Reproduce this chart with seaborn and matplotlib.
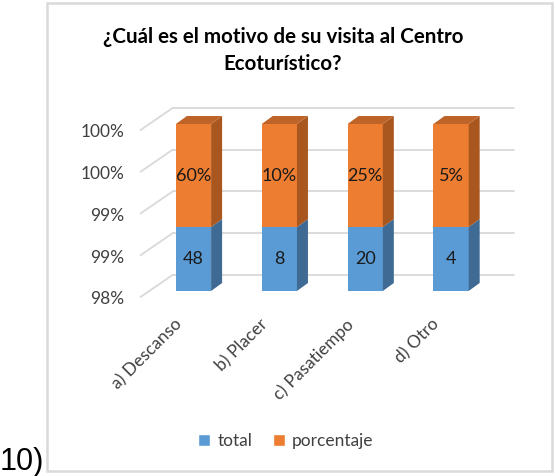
import numpy as np
import pandas as pd
import matplotlib
matplotlib.use('Agg')
import matplotlib.pyplot as plt
import matplotlib.transforms as mtransforms
from matplotlib.patches import Polygon, Rectangle, Patch
import seaborn as sns

# datos
categorias = ['a) Descanso', 'b) Placer', 'c) Pasatiempo', 'd) Otro']
total = [48, 8, 20, 4]
porcentaje = [0.60, 0.10, 0.25, 0.05]
etiquetas_total = ['48', '8', '20', '4']
etiquetas_pct = ['60%', '10%', '25%', '5%']
y_ticks = [98, 98.5, 99, 99.5, 100]
y_labels = ['98%', '99%', '99%', '100%', '100%']

titulo = '¿Cuál es el motivo de su visita al Centro\nEcoturístico?'

AZUL = '#5B9BD5'
AZUL_LADO = '#3E6A94'
NARANJA = '#ED7D31'
NARANJA_LADO = '#A9561F'
NARANJA_TOPE = '#BE6428'
GRIS = '#D9D9D9'
TEXTO = '#404040'

sns.set_theme(style='white')
plt.rcParams['font.family'] = ['Lato', 'DejaVu Sans']

# 100% apilado
df = pd.DataFrame({'categoria': categorias, 'total': total, 'porcentaje': porcentaje})
df['pct_total'] = df['total'] / (df['total'] + df['porcentaje']) * 100
df['pct_acum'] = (df['total'] + df['porcentaje']) / (df['total'] + df['porcentaje']) * 100

fig = plt.figure(figsize=(5.55, 4.76), dpi=100)
ax = fig.add_axes([0.2713, 0.3887, 0.6188, 0.3508])

sns.barplot(data=df, x='categoria', y='pct_acum', color=NARANJA, saturation=1,
            width=0.41, linewidth=0, ax=ax, zorder=2)
sns.barplot(data=df, x='categoria', y='pct_total', color=AZUL, saturation=1,
            width=0.41, linewidth=0, ax=ax, zorder=2)

ymin, ymax = y_ticks[0], y_ticks[-1]
ax.set_ylim(ymin, ymax)
ax.set_xlim(-0.5, len(categorias) - 0.5)
ax.set_xlabel('')
ax.set_ylabel('')
ax.set_xticks([])
ax.set_yticks([])
sns.despine(ax=ax, left=True, bottom=True)

# escala en pixeles para la profundidad 3D
p0 = ax.transData.transform((0, ymin))
p1 = ax.transData.transform((1, ymax))
sx = p1[0] - p0[0]
sy = (p1[1] - p0[1]) / (ymax - ymin)
dx, dy = 11 / sx, 8 / sy

# pared del fondo (lineas de cuadricula)
x_lo, x_hi = ax.get_xlim()
back_l = x_lo + 22 / sx
back_r = x_hi + 20 / sx
front_l = x_lo - 10 / sx
for v in y_ticks:
    yb = v + 16 / sy
    yf = v - 6 / sy
    ax.plot([back_l, back_r], [yb, yb], color=GRIS, lw=1.3, zorder=0.5, clip_on=False)
    ax.plot([front_l, back_l], [yf, yb], color=GRIS, lw=1.3, zorder=0.5, clip_on=False)

# caras laterales y superiores
barras = ax.patches[:len(categorias)]
for i, b in enumerate(barras):
    xl = b.get_x()
    xr = xl + b.get_width()
    yt = df['pct_total'][i]
    for (y0, y1, col) in [(ymin, yt, AZUL_LADO), (yt, ymax, NARANJA_LADO)]:
        ax.add_patch(Polygon([(xr, y0), (xr, y1), (xr + dx, y1 + dy), (xr + dx, y0 + dy)],
                             closed=True, facecolor=col, edgecolor='none', zorder=2, clip_on=False))
    ax.add_patch(Polygon([(xl, ymax), (xr, ymax), (xr + dx, ymax + dy), (xl + dx, ymax + dy)],
                         closed=True, facecolor=NARANJA_TOPE, edgecolor='none', zorder=2, clip_on=False))
    # etiquetas de datos
    ax.text(i, (ymin + yt) / 2, etiquetas_total[i], ha='center', va='center',
            fontsize=13, color='#1a1a1a', zorder=3)
    ax.text(i, (yt + ymax) / 2, etiquetas_pct[i], ha='center', va='center',
            fontsize=13, color='#1a1a1a', zorder=3)

# etiquetas eje y
ty = ax.get_yaxis_transform() + mtransforms.ScaledTranslation(-0.265, -0.085, fig.dpi_scale_trans)
for v, lab in zip(y_ticks, y_labels):
    ax.text(0, v, lab, transform=ty, ha='right', va='center', fontsize=12.5, color=TEXTO)

# etiquetas eje x
tx = ax.transData + mtransforms.ScaledTranslation(-0.2, -0.25, fig.dpi_scale_trans)
for i, cat in enumerate(categorias):
    ax.text(i, ymin, cat, transform=tx, rotation=45, rotation_mode='anchor',
            ha='right', va='top', fontsize=12.5, color=TEXTO)

# titulo
fig.text(283 / 555, 1 - 27 / 476, titulo, ha='center', va='top', fontsize=14.8,
         fontweight='bold', color='#000000', linespacing=1.42)

# leyenda
handles = [Patch(facecolor=AZUL, label='total'), Patch(facecolor=NARANJA, label='porcentaje')]
fig.legend(handles=handles, loc='center', bbox_to_anchor=(286 / 555, 1 - 441 / 476),
           ncol=2, frameon=False, fontsize=12.5, handlelength=0.7, handleheight=0.7,
           handletextpad=0.4, columnspacing=1.2, labelcolor=TEXTO)

# marco del grafico
fig.add_artist(Rectangle((47 / 555, 1 - 471 / 476), (552 - 47) / 555, (471 - 3) / 476,
                         transform=fig.transFigure, fill=False, edgecolor=GRIS, lw=1.8))

fig.text(0.0, (476 - 470) / 476, '10)', fontsize=22, family=['Liberation Sans', 'DejaVu Sans'],
         color='#000000', ha='left', va='baseline')

fig.savefig('out.png', dpi=100)
